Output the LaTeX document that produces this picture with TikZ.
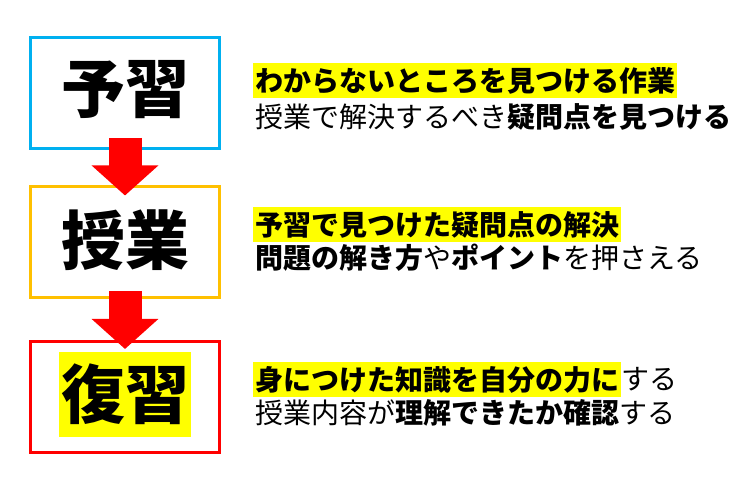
\documentclass[tikz,border=0pt]{standalone}
\usepackage{fontspec}
\newfontfamily\jpfont{Noto Sans CJK JP}
\usetikzlibrary{arrows.meta}
\definecolor{boxblue}{RGB}{0,176,240}
\definecolor{boxorange}{RGB}{255,192,0}
\definecolor{boxred}{RGB}{255,0,0}
\definecolor{hlyellow}{RGB}{255,255,0}
\tikzset{
  stepbox/.style={draw, line width=3pt, minimum width=189pt, minimum height=111pt},
  bigtext/.style={font=\jpfont\bfseries\fontsize{64}{70}\selectfont, inner sep=0pt},
  note/.style={font=\jpfont\fontsize{28}{32}\selectfont, anchor=west, inner xsep=2pt, inner ysep=0pt, minimum height=35pt},
  hl/.style={note, fill=hlyellow},
  blockarrow/.style={draw=boxred, line width=33pt, -{Triangle[width=65pt,length=30pt]}}
}
\begin{document}
\begin{tikzpicture}[x=1pt,y=1pt]
\useasboundingbox (0,0) rectangle (750,500);

% boxes
\node[stepbox, draw=boxblue] (yoshu) at (125,407) {};
\node[stepbox, draw=boxorange] (jugyo) at (125,258) {};
\node[stepbox, draw=boxred] (fukushu) at (125,102.5) {};

\node[bigtext] (yoshuT) at (125,410) {予習};
\node[bigtext] (jugyoT) at (125,260) {授業};
\node[bigtext, fill=hlyellow, minimum width=132pt, minimum height=85pt] (fukushuT) at (125,105.5) {復習};

% arrows
\draw[blockarrow] ([yshift=12pt]yoshu.south) -- ([yshift=-10.5pt]jugyo.north);
\draw[blockarrow] ([yshift=7.5pt]jugyo.south) -- ([yshift=-8.5pt]fukushu.north);

% notes
\node[hl] (n1a) at (253,419.5) {\bfseries わからないところを見つける作業};
\node[note] (n1b) at (253,383) {授業で解決するべき{\bfseries 疑問点を見つける}};

\node[hl] (n2a) at (253,275) {\bfseries 予習で見つけた疑問点の解決};
\node[note] (n2b) at (253,242) {{\bfseries 問題の解き方}や{\bfseries ポイント}を押さえる};

\node[hl] (n3a) at (253,120.5) {\bfseries 身につけた知識を自分の力に};
\node[note, inner xsep=0pt] (n3c) at (n3a.east) {する};
\node[note] (n3b) at (253,87) {授業内容が{\bfseries 理解できたか確認}する};
\end{tikzpicture}
\end{document}
